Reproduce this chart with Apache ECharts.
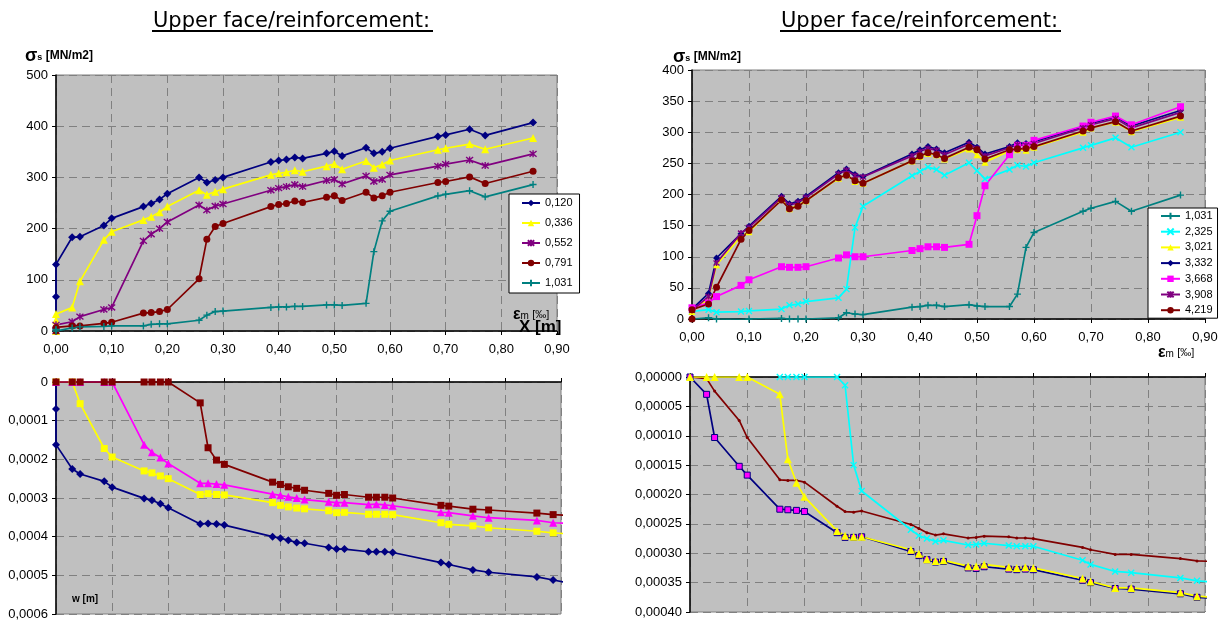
<!DOCTYPE html>
<html>
<head>
<meta charset="utf-8">
<script src="https://cdn.jsdelivr.net/npm/echarts@6/dist/echarts.min.js"></script>
<style>
  html, body { margin: 0; padding: 0; background: #fff; }
  #chart { width: 1225px; height: 622px; }
</style>
</head>
<body>
<div id="chart"></div>
<script>
// common x positions (epsilon_m / x) of the load steps
var X = [0, 0.029, 0.043, 0.086, 0.1, 0.157, 0.171, 0.186, 0.2, 0.257, 0.271, 0.286, 0.3,
         0.386, 0.4, 0.414, 0.429, 0.443, 0.486, 0.5, 0.514, 0.557, 0.571, 0.586, 0.6,
         0.686, 0.7, 0.743, 0.771, 0.857];
// lower charts carry two more steps (last one runs off the plot edge)
var XB = X.concat([0.886, 0.915]);

var xTicks = ['0,00', '0,10', '0,20', '0,30', '0,40', '0,50', '0,60', '0,70', '0,80', '0,90'];

// top left: sigma_s [MN/m2]
var namesTL = ['0,120', '0,336', '0,552', '0,791', '1,031'];
var tl0120 = [130,183,184,206,220,243,249,257,268,300,290,295,300,330,333,335,339,337,347,351,342,358,347,350,357,380,383,394,382,407];
var tl0336 = [33,46,97,178,194,217,223,232,243,275,266,272,277,305,308,310,314,311,322,326,316,332,319,325,333,354,357,365,355,377];
var tl0552 = [12,18,28,42,46,176,189,200,213,246,236,244,248,275,279,282,286,282,294,296,287,303,292,296,305,322,326,334,323,346];
var tl0791 = [7,10,10,15,17,35,36,38,42,102,179,204,210,243,247,249,254,251,261,264,255,271,260,264,271,290,292,301,288,312];
var tl1031 = [3,6,8,9,10,10,13,14,14,21,31,38,39,46,47,47,48,48,51,51,50,54,155,215,234,264,267,274,262,286];

// top right: sigma_s [MN/m2]
var namesTR = ['1,031', '2,325', '3,021', '3,332', '3,668', '3,908', '4,219'];
var tr1031 = [0,2,0,-1,0,1,0,0,0,2,10,8,7,19,20,22,22,20,23,21,20,20,40,115,139,173,178,189,173,199];
var tr2325 = [12,15,11,12,13,16,22,24,28,34,48,147,181,230,237,244,240,231,251,238,225,240,247,245,251,275,279,291,276,300];
var tr3021 = [12,33,87,133,140,192,177,183,190,226,232,221,218,254,261,266,264,257,273,264,252,270,272,271,276,300,307,316,301,324];
var tr3332 = [16,41,98,137,149,197,185,189,197,235,241,232,229,265,272,277,273,267,284,276,265,277,283,282,285,309,314,325,310,335];
var tr3668 = [18,26,36,54,63,84,83,83,84,98,103,100,100,110,113,116,116,115,120,166,214,264,279,279,287,310,316,326,312,341];
var tr3908 = [14,36,90,138,147,195,183,187,195,233,239,230,228,262,269,274,271,264,281,274,262,275,280,279,282,307,312,322,307,332];
var tr4219 = [15,24,51,128,142,191,177,181,190,227,231,222,218,254,262,267,264,258,276,272,257,272,273,274,277,302,307,317,302,326];

// bottom left: w [m]
var blNavy = [0.000162,0.000225,0.000238,0.000257,0.000272,0.000301,0.000306,0.000315,0.000325,0.000367,0.000366,0.000367,0.00037,0.0004,0.000404,0.000409,0.000415,0.000417,0.000428,0.000432,0.000432,0.000439,0.000439,0.000439,0.000441,0.000467,0.000472,0.000486,0.000492,0.000504,0.000512,0.00052];
var blYellow = [0,0,0.000056,0.000172,0.000194,0.00023,0.000235,0.000243,0.00025,0.000291,0.000289,0.000291,0.000292,0.000312,0.000319,0.000323,0.000326,0.000328,0.000333,0.000338,0.000337,0.000342,0.000342,0.000342,0.000343,0.000364,0.000368,0.000372,0.000377,0.000386,0.00039,0.000393];
var blMagenta = [0,0,0,0,0,0.000162,0.000182,0.000195,0.000211,0.000262,0.000262,0.000264,0.000266,0.00029,0.000293,0.000297,0.0003,0.000304,0.00031,0.000312,0.000312,0.000317,0.000316,0.000318,0.00032,0.000337,0.000338,0.000346,0.000351,0.000358,0.000364,0.000366];
var blRed = [0,0,0,0,0,0,0,0,0,0.000054,0.00017,0.000202,0.000213,0.000259,0.000265,0.000271,0.000275,0.00028,0.000288,0.000293,0.000291,0.000298,0.000298,0.000298,0.0003,0.000319,0.000321,0.000329,0.000331,0.000339,0.000343,0.000345];

// bottom right: w [m]
var brNavy = [0,0.0000295,0.000103,0.000152,0.000167,0.000225,0.000226,0.000227,0.000229,0.000265,0.000273,0.000273,0.000272,0.000297,0.000304,0.000311,0.000315,0.000314,0.000325,0.000326,0.000323,0.000327,0.000328,0.000327,0.000328,0.000346,0.00035,0.00036,0.000361,0.000369,0.000375,0.000377];
var brYellow = [0,0,0,0,0,0.0000295,0.00014,0.00018,0.000204,0.000262,0.00027,0.000272,0.000272,0.000294,0.000301,0.00031,0.000313,0.000312,0.000322,0.000322,0.000319,0.000324,0.000325,0.000324,0.000325,0.000343,0.000348,0.000359,0.000359,0.000367,0.000373,0.000375];
var brCyan = [null,null,null,null,null,0,0,0,0,0,0.000014,0.00015,0.000194,0.00026,0.00027,0.000275,0.00028,0.000278,0.000286,0.000285,0.000283,0.000287,0.000288,0.000288,0.000288,0.000312,0.000319,0.000331,0.000333,0.000342,0.000347,0.000349];
var brRed = [0,0.0000028,0.000024,0.000074,0.000103,0.000175,0.000176,0.000176,0.000179,0.00022,0.000229,0.00023,0.000228,0.000251,0.000258,0.000265,0.000269,0.000267,0.000274,0.000273,0.000271,0.000272,0.000274,0.000274,0.000275,0.00029,0.000294,0.000302,0.000302,0.000309,0.000313,0.000314];

var NAVY = '#000080', YELLOW = '#ffff00', PURPLE = '#800080', RED = '#800000',
    TEAL = '#008080', CYAN = '#00ffff', MAGENTA = '#ff00ff';

var PLUS = 'path://M5,0L5,10M0,5L10,5';
var CROSS = 'path://M0,0L10,10M10,0L0,10';
var STAR = 'path://M0,0L10,10M10,0L0,10M5,-1L5,11';

function pts(xs, ys, pre) {
    var out = (pre || []).map(function (v) { return [0, v]; });
    xs.forEach(function (x, i) {
        if (ys[i] !== null) out.push([x, ys[i]]);
    });
    return out;
}

function ser(name, grid, data, color, symbol, size, opts) {
    opts = opts || {};
    var stroked = symbol.indexOf('path://') === 0;
    return {
        name: name,
        type: 'line',
        xAxisIndex: grid,
        yAxisIndex: grid,
        data: data,
        symbol: symbol,
        symbolSize: size,
        clip: true,
        lineStyle: { color: color, width: 1.7 },
        itemStyle: {
            color: opts.fill || color,
            borderColor: opts.border || color,
            borderWidth: stroked ? 1.4 : (opts.border ? 1 : 0)
        },
        emphasis: { disabled: true },
        z: opts.z || 2
    };
}

var dash = { show: true, lineStyle: { color: '#808080', type: [8, 5], width: 1 } };
var blackLine = { show: true, onZero: false, lineStyle: { color: '#000', width: 1.5 } };
var tick = { show: true, length: 4, lineStyle: { color: '#000' } };
var lab = { color: '#000', fontSize: 13, fontFamily: 'Liberation Sans, Arial, sans-serif' };

function xAx(grid, showLabels, pos) {
    return {
        type: 'value', gridIndex: grid, min: 0, max: 0.9, interval: 0.1,
        position: pos,
        axisLine: blackLine, axisTick: tick, splitLine: dash,
        axisLabel: Object.assign({ show: showLabels, margin: 12,
            formatter: function (v) { return xTicks[Math.round(v * 10)]; } }, lab)
    };
}

function yAx(grid, max, interval, inverse, formatter) {
    return {
        type: 'value', gridIndex: grid, min: 0, max: max, interval: interval,
        inverse: inverse,
        axisLine: blackLine, axisTick: tick, splitLine: dash,
        axisLabel: Object.assign({ margin: 8, formatter: formatter }, lab)
    };
}

function gridBox(left, top, width, height) {
    return { left: left, top: top, width: width, height: height, show: true,
             backgroundColor: '#c0c0c0', borderColor: '#808080', borderWidth: 1,
             containLabel: false, outerBoundsMode: 'none' };
}

var legendBase = {
    orient: 'vertical', backgroundColor: '#fff', borderColor: '#000', borderWidth: 1,
    borderRadius: 0, itemWidth: 18, itemHeight: 8, selectedMode: false,
    textStyle: { color: '#000', fontSize: 11, fontFamily: 'Liberation Sans, Arial, sans-serif', lineHeight: 12 }
};

var titleFont = { fontSize: 21, fontFamily: 'DejaVu Sans, Verdana, sans-serif', fill: '#000' };

function sigmaLabel(x, y) {
    return { type: 'text', left: x, top: y, style: {
        text: '{a|σ}{b|s} {c|[MN/m2]}',
        rich: {
            a: { fontSize: 18, fontWeight: 'bold', fontFamily: 'Liberation Sans, Arial', fill: '#000' },
            b: { fontSize: 9, fontWeight: 'bold', fontFamily: 'Liberation Sans, Arial', fill: '#000', padding: [4, 0, 0, 0] },
            c: { fontSize: 12, fontWeight: 'bold', fontFamily: 'Liberation Sans, Arial', fill: '#000' }
        } } };
}

function epsLabel(x, y) {
    return { type: 'text', left: x, top: y, z: 100, style: {
        text: '{a|ε}{b|m} {c|[‰]}',
        rich: {
            a: { fontSize: 16, fontWeight: 'bold', fontFamily: 'Liberation Sans, Arial', fill: '#000' },
            b: { fontSize: 10, fontFamily: 'Liberation Sans, Arial', fill: '#000', padding: [3, 0, 0, 0] },
            c: { fontSize: 11, fontFamily: 'Liberation Sans, Arial', fill: '#000' }
        } } };
}

var myChart = echarts.init(document.getElementById('chart'), null, { renderer: 'canvas' });

option = {
    animation: false,
    backgroundColor: '#fff',
    grid: [
        gridBox(56, 75, 501, 256),
        gridBox(56, 382, 505, 232),
        gridBox(692, 70, 513, 249),
        gridBox(690, 377, 515, 235)
    ],
    xAxis: [
        xAx(0, true, 'bottom'),
        xAx(1, false, 'top'),
        xAx(2, true, 'bottom'),
        xAx(3, false, 'top')
    ],
    yAxis: [
        yAx(0, 500, 100, false, function (v) { return String(v); }),
        yAx(1, 0.0006, 0.0001, true, function (v) { return v === 0 ? '0' : v.toFixed(4).replace('.', ','); }),
        yAx(2, 400, 50, false, function (v) { return String(v); }),
        yAx(3, 0.0004, 0.00005, true, function (v) { return v.toFixed(5).replace('.', ','); })
    ],
    legend: [
        Object.assign({}, legendBase, { data: namesTL, left: 509, top: 194, itemGap: 8,
            padding: [3, 7, 4, 12] }),
        Object.assign({}, legendBase, { data: namesTR, left: 1148, top: 208, itemGap: 3.7,
            itemWidth: 19, padding: [2, 5, 2, 12] })
    ],
    series: [
        ser('0,120', 0, pts(X, tl0120, [0, 67]), NAVY, 'diamond', 8),
        ser('0,336', 0, pts(X, tl0336, [0, 21]), YELLOW, 'triangle', 8),
        ser('0,552', 0, pts(X, tl0552, [0]), PURPLE, STAR, 7),
        ser('0,791', 0, pts(X, tl0791, [0]), RED, 'circle', 7),
        ser('1,031', 0, pts(X, tl1031, [0]), TEAL, PLUS, 7),

        ser('1,031', 2, pts(X, tr1031), TEAL, PLUS, 7),
        ser('2,325', 2, pts(X, tr2325), CYAN, CROSS, 6),
        ser('3,021', 2, pts(X, tr3021), YELLOW, 'triangle', 7),
        ser('3,332', 2, pts(X, tr3332), NAVY, 'diamond', 7),
        ser('3,668', 2, pts(X, tr3668), MAGENTA, 'rect', 7),
        ser('3,908', 2, pts(X, tr3908), PURPLE, STAR, 6),
        ser('4,219', 2, pts(X, tr4219, [0]), RED, 'circle', 7),

        ser('w-a', 1, pts(XB, blNavy, [0, 0.00007]), NAVY, 'diamond', 8),
        ser('w-b', 1, pts(XB, blYellow), YELLOW, 'rect', 7),
        ser('w-c', 1, pts(XB, blMagenta), MAGENTA, 'triangle', 8),
        ser('w-d', 1, pts(XB, blRed), RED, 'rect', 7),

        ser('w-e', 3, pts(XB, brRed), RED, 'circle', 3),
        ser('w-f', 3, pts(XB, brNavy), NAVY, 'rect', 6, { fill: MAGENTA, border: NAVY }),
        ser('w-g', 3, pts(XB, brCyan), CYAN, CROSS, 6),
        ser('w-h', 3, pts(XB, brYellow), YELLOW, 'triangle', 8)
    ],
    graphic: [
        { type: 'text', left: 153, top: 11, style: Object.assign({ text: 'Upper face/reinforcement:' }, titleFont) },
        { type: 'rect', shape: { x: 152, y: 30, width: 281, height: 2 }, style: { fill: '#000' } },
        { type: 'text', left: 781, top: 11, style: Object.assign({ text: 'Upper face/reinforcement:' }, titleFont) },
        { type: 'rect', shape: { x: 780, y: 30, width: 281, height: 2 }, style: { fill: '#000' } },

        sigmaLabel(25, 47),
        sigmaLabel(673, 48),
        epsLabel(513, 307),
        { type: 'text', left: 519, top: 319, z: 100, style: {
            text: 'X [m]', fontSize: 17, fontWeight: 'bold', fontFamily: 'Liberation Sans, Arial', fill: '#000' } },
        epsLabel(1158, 345),
        { type: 'text', left: 72, top: 594, z: 100, style: {
            text: 'w [m]', fontSize: 10, fontWeight: 'bold', fontFamily: 'Liberation Sans, Arial', fill: '#000' } }
    ]
};

myChart.setOption(option);
</script>
</body>
</html>
